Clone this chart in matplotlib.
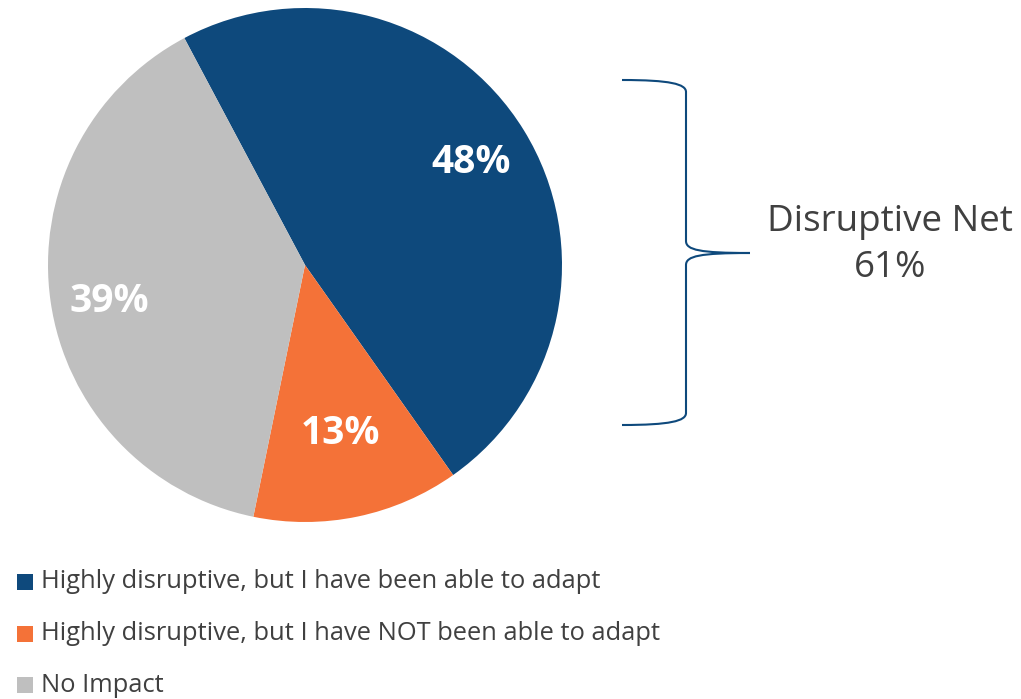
import numpy as np
import matplotlib
matplotlib.use('Agg')
import matplotlib.pyplot as plt
from matplotlib.path import Path
from matplotlib.patches import PathPatch, Rectangle

plt.rcParams['font.family'] = ['Open Sans', 'DejaVu Sans']

categories = ['Highly disruptive, but I have been able to adapt',
              'Highly disruptive, but I have NOT been able to adapt',
              'No Impact']
shares = [48, 13, 39]
colors = ['#0E497C', '#F47238', '#BFBFBF']
net_label = 'Disruptive Net'
net_value = shares[0] + shares[1]

W, H = 1021, 699
fig = plt.figure(figsize=(W / 100, H / 100), dpi=100)
ax = fig.add_axes([0, 0, 1, 1])

# pie drawn in pixel space, y pointing up
cx, cy, r = 305, H - 265, 257
wedges, _ = ax.pie(shares, colors=colors, startangle=118, counterclock=False,
                   center=(cx, cy), radius=r, frame=True)
ax.set_xlim(0, W)
ax.set_ylim(0, H)
ax.set_aspect('equal')
ax.axis('off')

# radial distance of each % label, plus a small angular nudge (degrees)
label_dist = [0.76, 0.67, 0.775]
label_nudge = [0, 0, 2.5]
for w, v, d, nd in zip(wedges, shares, label_dist, label_nudge):
    ang = np.deg2rad((w.theta1 + w.theta2) / 2 + nd)
    ax.text(cx + d * r * np.cos(ang), cy + d * r * np.sin(ang), f'{v}%',
            ha='center', va='center', color='white', fontsize=28,
            fontweight='bold')


def yy(v):
    return H - v


# curly brace spanning the two disruptive slices
verts = [(622, yy(80)), (670, yy(80)), (686, yy(84)), (686, yy(92)),
         (686, yy(241)),
         (686, yy(250)), (700, yy(253)), (750, yy(253)),
         (700, yy(253)), (686, yy(256)), (686, yy(265)),
         (686, yy(413)),
         (686, yy(421)), (670, yy(425)), (622, yy(425))]
codes = ([Path.MOVETO] + [Path.CURVE4] * 3 + [Path.LINETO] + [Path.CURVE4] * 6
         + [Path.LINETO] + [Path.CURVE4] * 3)
ax.add_patch(PathPatch(Path(verts, codes), facecolor='none',
                       edgecolor=colors[0], lw=1.5))

ax.text(890, yy(222), net_label, ha='center', va='center', fontsize=26.5,
        color='#404040')
ax.text(890, yy(268), f'{net_value}%', ha='center', va='center', fontsize=26.5,
        color='#404040')

# legend rows
for i, (lab, col) in enumerate(zip(categories, colors)):
    y = yy(582 + 51.5 * i)
    ax.add_patch(Rectangle((17, y - 8), 16, 16, facecolor=col, edgecolor='none'))
    ax.text(41, y, lab, ha='left', va='center', fontsize=18.4, color='#404040')

fig.savefig('out.png', dpi=100)
